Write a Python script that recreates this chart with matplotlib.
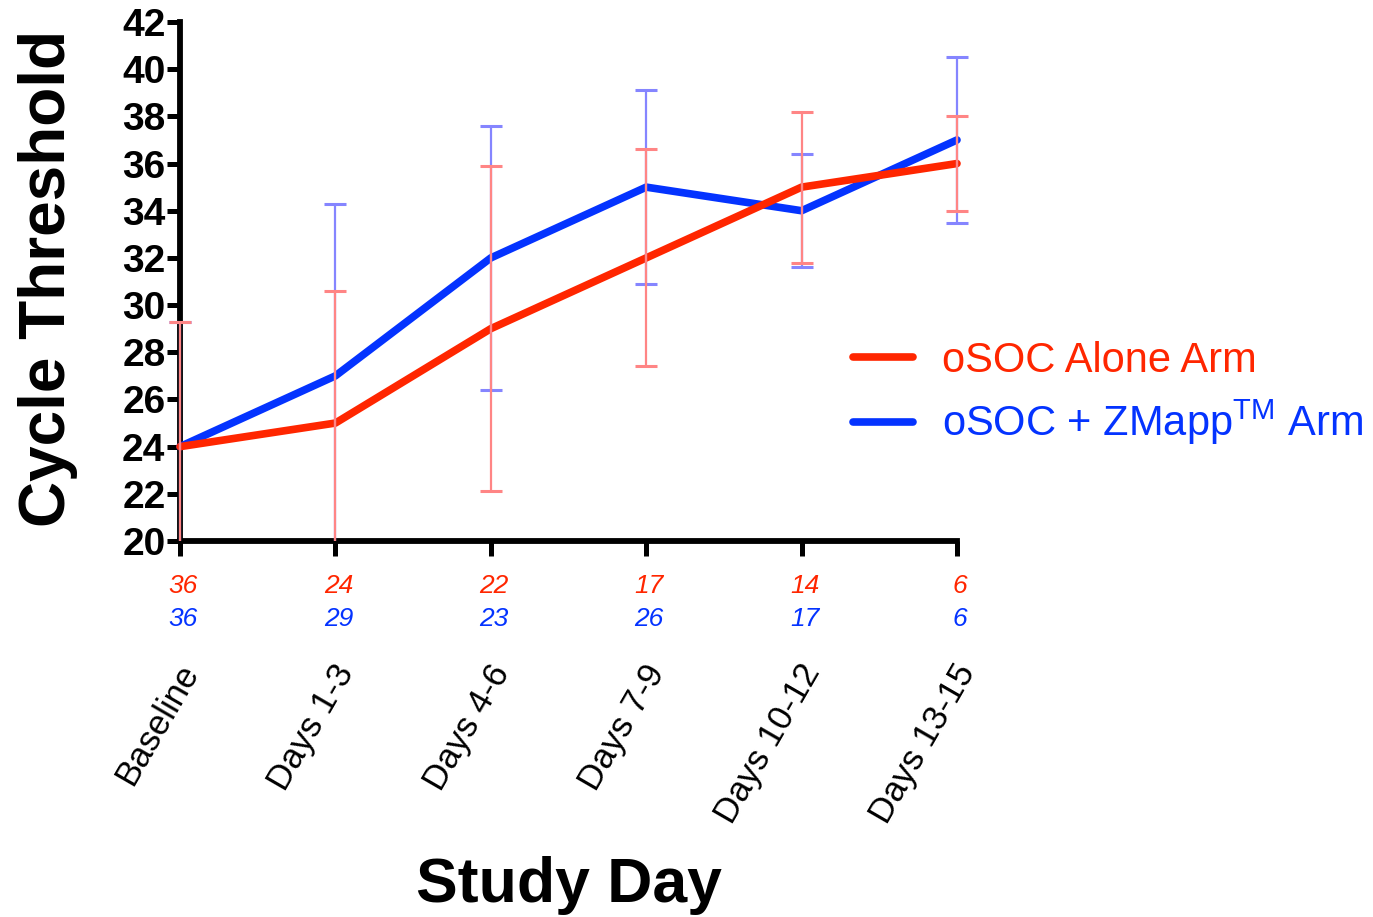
import matplotlib
matplotlib.use("Agg")
import matplotlib.pyplot as plt
import numpy as np

# ---- data ----
categories = ["Baseline", "Days 1-3", "Days 4-6", "Days 7-9", "Days 10-12", "Days 13-15"]
soc_mean = [24, 25, 29, 32, 35, 36]
soc_err = [5.3, 5.6, 6.9, 4.6, 3.2, 2.0]
zmapp_mean = [24, 27, 32, 35, 34, 37]
zmapp_err = [5.3, 7.3, 5.6, 4.1, 2.4, 3.5]
soc_n = [36, 24, 22, 17, 14, 6]
zmapp_n = [36, 29, 23, 26, 17, 6]
yticks = list(range(20, 43, 2))

RED = "#FF2600"
BLUE = "#0433FF"
RED_ERR = "#FF8585"
BLUE_ERR = "#8585FF"

plt.rcParams["font.family"] = ["Liberation Sans", "DejaVu Sans"]
plt.rcParams["mathtext.fontset"] = "custom"
plt.rcParams["mathtext.rm"] = "Liberation Sans"
plt.rcParams["mathtext.it"] = "Liberation Sans:italic"
plt.rcParams["mathtext.bf"] = "Liberation Sans:bold"

W, H = 1373, 917
fig = plt.figure(figsize=(W / 100, H / 100), dpi=100)
x0, x1 = 180, 957
pad = 0.1 * (x1 - x0) / 5
left, right = x0 - pad, x1 + pad
top, bottom = 22, 541
ax = fig.add_axes([left / W, 1 - bottom / H, (right - left) / W, (bottom - top) / H])

x = np.arange(len(categories))

ax.plot(x, zmapp_mean, color=BLUE, lw=5.5, solid_capstyle="round", zorder=3,
        label=r"oSOC + ZMapp$^{\mathrm{TM}}$ Arm")
ax.plot(x, soc_mean, color=RED, lw=5.5, solid_capstyle="round", zorder=4,
        label="oSOC Alone Arm")
ax.errorbar(x, zmapp_mean, yerr=zmapp_err, fmt="none", ecolor=BLUE_ERR,
            elinewidth=1.6, capsize=8, capthick=2.2, zorder=5)
ax.errorbar(x, soc_mean, yerr=soc_err, fmt="none", ecolor=RED_ERR,
            elinewidth=1.6, capsize=8, capthick=2.2, zorder=6)

ax.set_xlim(-0.1, 5.1)
ax.set_ylim(20, 42)
ax.spines["top"].set_visible(False)
ax.spines["right"].set_visible(False)
ax.spines["left"].set_position(("data", 0))
ax.spines["left"].set_bounds(20, 42)
ax.spines["bottom"].set_bounds(0, 5)
for s in ("left", "bottom"):
    ax.spines[s].set_linewidth(4.2)
    ax.spines[s].set_capstyle("projecting")
    ax.spines[s].set_zorder(2)

ax.set_yticks(yticks)
ax.set_yticklabels([str(t) for t in yticks], fontsize=28, fontweight="bold")
ax.tick_params(axis="y", length=9.5, width=3.6, pad=1)
ax.set_xticks(x)
ax.set_xticklabels([])
ax.tick_params(axis="x", length=11, width=3.6)

for i, lab in enumerate(categories):
    ax.annotate(lab, xy=(i, 20), xycoords="data", xytext=(11, -126),
                textcoords="offset pixels", rotation=60, rotation_mode="anchor",
                ha="right", va="center", fontsize=25, annotation_clip=False)
    ax.annotate(str(soc_n[i]), xy=(i, 20), xycoords="data", xytext=(3, -45),
                textcoords="offset pixels", ha="center", va="center",
                fontsize=19, style="italic", color=RED, annotation_clip=False)
    ax.annotate(str(zmapp_n[i]), xy=(i, 20), xycoords="data", xytext=(3, -78),
                textcoords="offset pixels", ha="center", va="center",
                fontsize=19, style="italic", color=BLUE, annotation_clip=False)

ax.set_ylabel("Cycle Threshold", fontsize=46, fontweight="bold")
ax.yaxis.set_label_coords((78 - left) / (right - left), 0.505)
ax.set_xlabel("Study Day", fontsize=45, fontweight="bold")
ax.xaxis.set_label_coords(0.5, -(856 - bottom) / (bottom - top))

h, l = ax.get_legend_handles_labels()
leg = fig.legend(h[::-1], l[::-1], loc="center left",
                 bbox_to_anchor=(832 / W, 1 - 394 / H), frameon=False,
                 fontsize=30, handlelength=1.45, handletextpad=0.7,
                 labelspacing=0.42, borderpad=0)
for t, c in zip(leg.get_texts(), [RED, BLUE]):
    t.set_color(c)

fig.savefig("out.png", dpi=100)
